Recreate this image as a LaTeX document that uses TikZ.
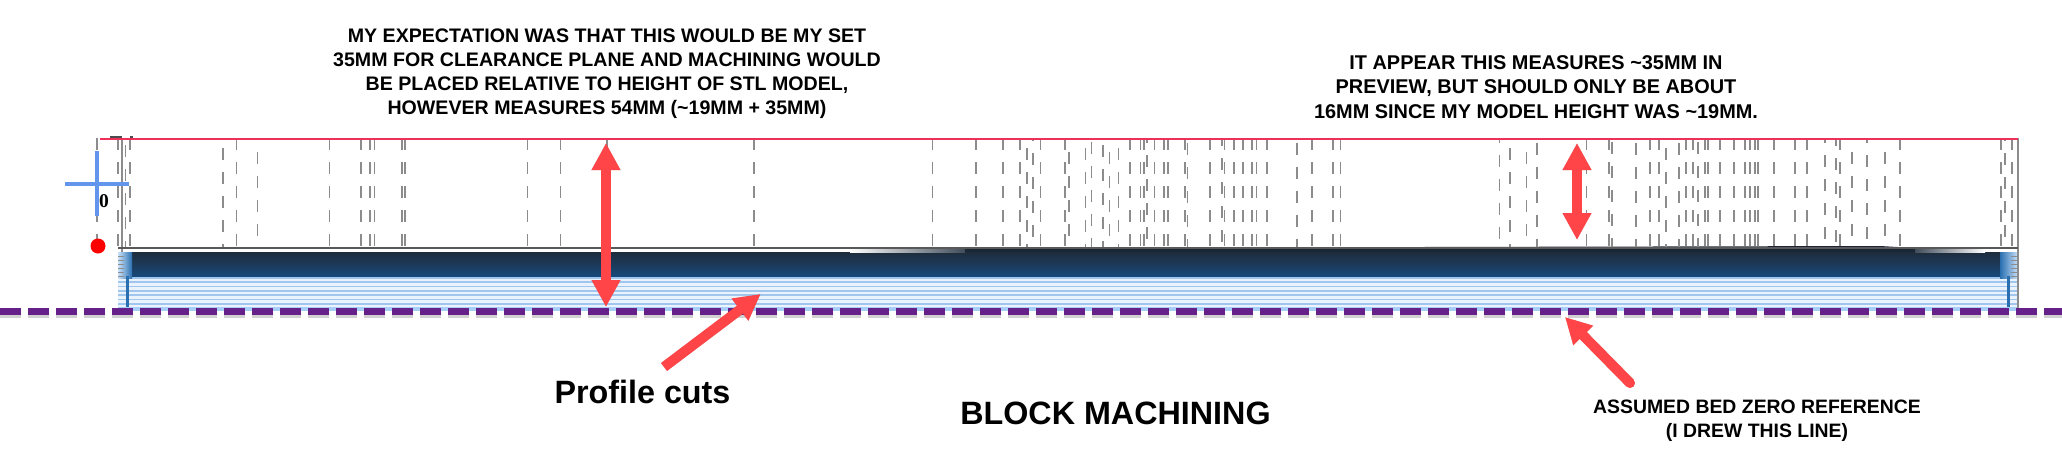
\documentclass[tikz,border=0pt]{standalone}
\usepackage{fontspec}
\setmainfont{Liberation Sans}
\newfontfamily\zeroserif{Liberation Serif}
\usetikzlibrary{arrows.meta}
\definecolor{arrowred}{HTML}{FF4548}
\definecolor{planered}{HTML}{F0305A}
\definecolor{bedpurple}{HTML}{66208A}
\definecolor{crossblue}{HTML}{6495ED}
\definecolor{dashgray}{HTML}{8C8C8C}
\definecolor{bandtop}{HTML}{1F2D3D}
\definecolor{bandbot}{HTML}{17497A}
\definecolor{stripeblue}{HTML}{A0C6F0}
\definecolor{stripelight}{HTML}{EAF3FC}
\definecolor{baseblue}{HTML}{A6CEF8}
\definecolor{edgeblue}{HTML}{2A70B0}
\tikzset{
  x=1pt,y=-1pt,
  note/.style={font=\bfseries\fontsize{19.6}{24.2}\selectfont,align=center,inner sep=0pt,text=black},
  notewide/.style={font=\bfseries\fontsize{19.9}{24.4}\selectfont,align=center,inner sep=0pt,text=black},
  smallnote/.style={font=\bfseries\fontsize{19.4}{24}\selectfont,align=center,inner sep=0pt,text=black},
  bignote/.style={font=\bfseries\fontsize{32.3}{36}\selectfont,inner sep=0pt,anchor=base,text=black},
  redarrow/.style={draw=arrowred,line width=10pt},
  arrowshadow/.style={draw=black,opacity=.2,line width=10pt},
  headboth/.style={{Triangle[length=27pt,width=27pt]}-{Triangle[length=27pt,width=27pt]}},
  headend/.style={-{Triangle[length=26pt,width=26pt]}},
  cutdash/.style={dashgray,line width=1.4pt},
  bedline/.style={bedpurple,line width=7pt,dash pattern=on 21pt off 7pt},
}
\begin{document}
\begin{tikzpicture}
\useasboundingbox[fill=white] (0,0) rectangle (2062,469);

% stock: stepped tool paths
\fill[baseblue] (118,276) rectangle (2018,311);
\foreach \yy in {277,281.3,...,303}{
  \fill[stripeblue] (118,\yy) rectangle (2018,\yy+1.8);
  \fill[stripelight] (118,\yy+1.8) rectangle (2018,\yy+4.3);
}
\shade[top color=bandtop,bottom color=bandbot,middle color=bandtop!55!bandbot] (118,252) rectangle (2018,276);
\fill[white] (118,249) rectangle (2018,252);
\shade[left color=white,right color=bandtop!85] (850,249) rectangle (965,252);
\fill[bandtop!85!black] (965,252) -- (965,248) -- (1880,246) -- (1915,248) -- (1915,252) -- cycle;
\shade[left color=bandtop!85,right color=white] (1915,249) rectangle (1985,252);
% stock ends
\shade[left color=baseblue!60!white,right color=edgeblue] (118,252) rectangle (132,278);
\shade[left color=edgeblue,right color=baseblue!60!white] (2000,252) rectangle (2018,278);
\fill[edgeblue] (126,276) rectangle (129,307);
\fill[edgeblue] (2007,276) rectangle (2010,307);
\foreach \yy in {256,260,...,276}{
  \draw[dashgray,line width=.8pt] (118,\yy) -- (124,\yy);
  \draw[dashgray,line width=.8pt] (2011,\yy) -- (2018,\yy);
}

% rapid moves
\foreach \xx/\pp in {
 118/0,125.7/17,130/0,223/14,236.7/0,257.7/10,329.7/0,361/0,370/0,374.7/0,
 402/0,405/0,527.7/0,560.7/0,607/0,754/0,
 932.7/0,976/0,1003/0,1020/0,1027/14,1033/9,1040.7/0,1065/0,1069/10,1085.7/14,1091.7/20,
 1103/17,1109.7/10,1118.7/14,1130/0,1140.7/0,1144/0,1147/7,1154.7/0,1164/0,1168/0,1185/0,1187.7/19,
 1210/0,1222/4,1224.7/0,1234/0,1243/0,1252/0,1256.7/0,1267/0,1297/19,1312/0,1333/0,1340.7/0,
 1499.7/7,1510/14,1526.7/10,1537/19,1586.7/0,
 1609/0,1612/20,1636/19,1650/0,1659/0,1666/14,1679/19,1686/0,1693/0,1698/20,1705/0,1708/0,1720/0,
 1734/0,1745/0,1750/0,1755/0,1758/0,1774/0,1795/0,1807/0,1825/7,1836/4,1840/0,1852/10,1867/7,1885/10,1900/0,
 2001/0,2005/9,2012/0}{
  \draw[cutdash,dash pattern=on 12pt off 12pt,dash phase=\pp pt] (\xx,138) -- (\xx,248);
}
\draw[cutdash] (122,139) -- (122,252);
\draw[cutdash] (2018,138) -- (2018,308);
\draw[cutdash,dash pattern=on 12pt off 12pt] (97,138) -- (97,240);
\draw[black!70,line width=1.6pt] (110,137) -- (122,137) (130,137) -- (133,137);
\draw[black!65,line width=1.6pt] (118,248) -- (2018,248);
\draw[planered,line width=2pt] (100,138.5) -- (2018,138.5);

% origin mark
\draw[crossblue,line width=4pt] (65,183.7) -- (129,183.7);
\draw[crossblue,line width=4pt] (97,151) -- (97,216);
\node[font=\zeroserif\bfseries\fontsize{19.5}{20}\selectfont,inner sep=0pt] (zero) at (104,201.5) {0};
\fill[red] (98,246) circle (7.5);

% bed reference line
\draw[bedline,black,opacity=.18] (0,314.5) -- (2062,314.5);
\draw[bedline] (0,311) -- (2062,311);

% arrow end points
\coordinate (a1top) at (606,143);
\coordinate (a1bot) at (606,307);
\coordinate (a2top) at (1577,143);
\coordinate (a2bot) at (1577,240);
\coordinate (a3tail) at (664,367);
\coordinate (a3tip) at (760.7,294);
\coordinate (a4tail) at (1630,383);
\coordinate (a4tip) at (1565,317);

% arrow shadows
\begin{scope}[shift={(1,2.5)}]
  \draw[arrowshadow,headboth] (a1top) -- (a1bot);
  \draw[arrowshadow,headboth] (a2top) -- (a2bot);
  \draw[arrowshadow,headend] (a3tail) -- (a3tip);
  \draw[arrowshadow,headend,line cap=round] (a4tail) -- (a4tip);
\end{scope}
% arrows
\draw[redarrow,headboth] (a1top) -- (a1bot);
\draw[redarrow,headboth] (a2top) -- (a2bot);
\draw[redarrow,headend] (a3tail) -- (a3tip);
\draw[redarrow,headend,line cap=round] (a4tail) -- (a4tip);

% labels
\node[note] (expect) at (607,73.5) {MY EXPECTATION WAS THAT THIS WOULD BE MY SET\\35MM FOR CLEARANCE PLANE AND MACHINING WOULD\\BE PLACED RELATIVE TO HEIGHT OF STL MODEL,\\HOWEVER MEASURES 54MM (\textasciitilde 19MM + 35MM)};
\node[notewide] (appear) at (1536,87) {IT APPEAR THIS MEASURES \textasciitilde 35MM IN\\PREVIEW, BUT SHOULD ONLY BE ABOUT\\16MM SINCE MY MODEL HEIGHT WAS \textasciitilde 19MM.};
\node[bignote] (profile) at (642.5,403) {Profile cuts};
\node[bignote] (block) at (1115.5,424) {BLOCK MACHINING};
\node[smallnote] (assumed) at (1757,421) {ASSUMED BED ZERO REFERENCE\\(I DREW THIS LINE)};
\end{tikzpicture}
\end{document}
